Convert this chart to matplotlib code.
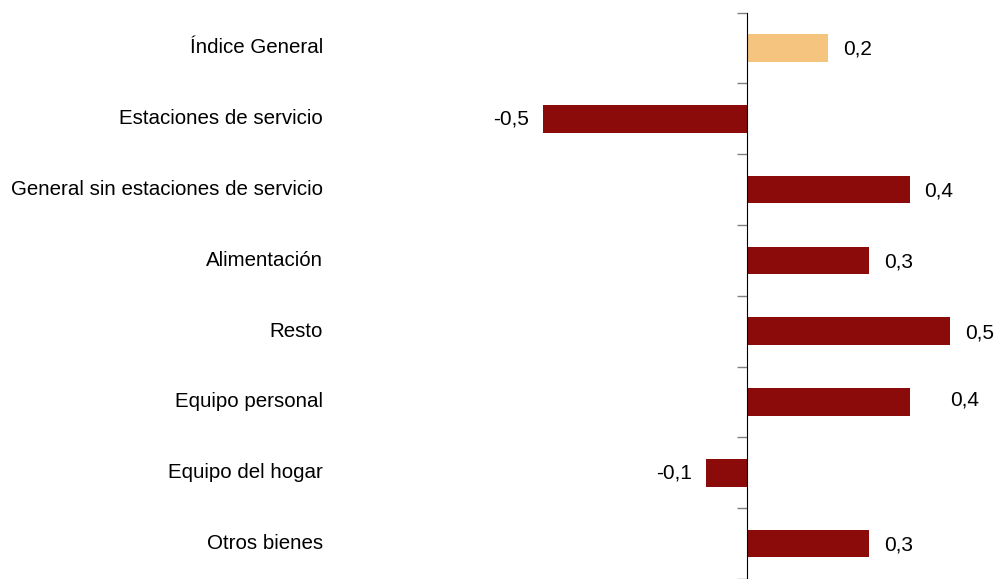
import numpy as np
import matplotlib.pyplot as plt
import matplotlib.transforms as mtransforms

plt.rcParams['font.family'] = ['Liberation Sans', 'DejaVu Sans']

categories = ['Índice General', 'Estaciones de servicio',
              'General sin estaciones de servicio', 'Alimentación', 'Resto',
              'Equipo personal', 'Equipo del hogar', 'Otros bienes']
values = [0.2, -0.5, 0.4, 0.3, 0.5, 0.4, -0.1, 0.3]
labels = ['0,2', '-0,5', '0,4', '0,3', '0,5', '0,4', '-0,1', '0,3']

dark_red = '#8B0A0A'
light = '#F5C47F'
colors = [light] + [dark_red] * (len(values) - 1)

fig = plt.figure(figsize=(9.95, 5.79), dpi=100)
ax = fig.add_axes([340 / 995, 0, 655 / 995, 566.5 / 579])

y = np.arange(len(categories))
ax.barh(y, values, height=0.39, color=colors)

for i, (v, lab) in enumerate(zip(values, labels)):
    if v >= 0:
        dx = 0.037 if i != 5 else 0.1
        dy = 0.02 if i != 5 else -0.03
        ax.text(v + dx, i + dy, lab, ha='left', va='center', fontsize=15)
    else:
        ax.text(v - 0.035, i, lab, ha='right', va='center', fontsize=15)

ax.set_xlim(-1.0, 0.61)
ax.set_ylim(7.39, -0.5)

# category names, right-aligned left of the plot area
trans = mtransforms.blended_transform_factory(fig.transFigure, ax.transData)
for i, name in enumerate(categories):
    ax.text(323 / 995, i, name, ha='right', va='center', fontsize=14.8,
            transform=trans)

ax.set_yticks(np.arange(-0.5, 8, 1))
ax.set_yticklabels([])
ax.tick_params(axis='y', length=7, color='#808080', width=1)
ax.set_xticks([])

for s in ['top', 'right', 'bottom']:
    ax.spines[s].set_visible(False)
ax.spines['left'].set_position(('data', 0))
ax.spines['left'].set_color('black')

fig.savefig('out.png', dpi=100)
